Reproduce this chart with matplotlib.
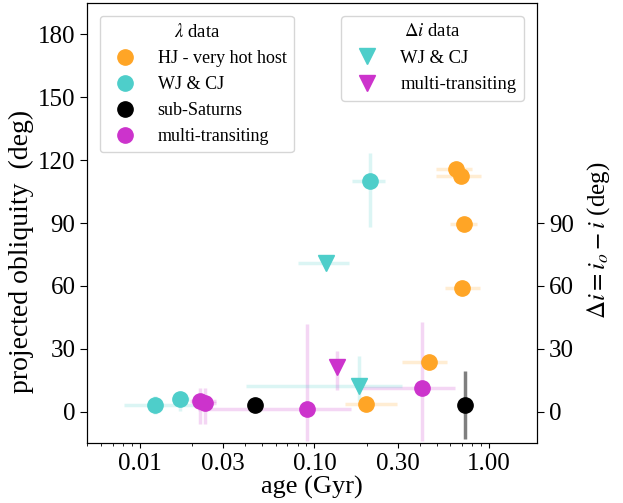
import numpy as np
import matplotlib
matplotlib.use('Agg')
import matplotlib.pyplot as plt
from matplotlib.colors import to_rgba
from matplotlib.lines import Line2D

plt.rcParams['font.family'] = ['Liberation Serif', 'DejaVu Serif']
plt.rcParams['mathtext.fontset'] = 'stix'

# --- lambda data (projected obliquity) ---
hj_age = [0.647, 0.69, 0.72, 0.70, 0.454, 0.198]
hj_age_lo = [0.497, 0.497, 0.60, 0.56, 0.318, 0.150]
hj_age_hi = [0.80, 0.90, 0.85, 0.89, 0.575, 0.298]
hj_lam = [116, 112.3, 89.5, 59.2, 23.7, 3.8]

wj_age = [0.0122, 0.0171, 0.209]
wj_age_lo = [0.0081, 0.0154, 0.165]
wj_age_hi = [0.0203, 0.0191, 0.255]
wj_lam = [3.3, 6.2, 110]
wj_lam_lo = [-1, 0.5, 88]
wj_lam_hi = [7.6, 9.5, 123.6]

ss_age = [0.0454, 0.73]
ss_lam = [3.3, 3.3]
ss_lam_lo = [3.3, -12.8]
ss_lam_hi = [3.3, 19.4]

mt_age = [0.022, 0.0235, 0.0912, 0.414]
mt_age_lo = [0.0195, 0.0215, 0.0215, 0.176]
mt_age_hi = [0.0272, 0.0272, 0.161, 0.64]
mt_lam = [5.2, 4.3, 1.4, 11.4]
mt_lam_lo = [-5.7, -5.7, -14, -14]
mt_lam_hi = [11.4, 11.4, 42, 43]

# --- delta i data ---
wj_di_age = [0.117, 0.181]
wj_di_age_lo = [0.080, 0.0404]
wj_di_age_hi = [0.158, 0.318]
wj_di = [71, 12.5]
wj_di_lo = [71, 5.2]
wj_di_hi = [71, 26.5]

mt_di_age = [0.134]
mt_di = [21.3]
mt_di_lo = [10.4]
mt_di_hi = [29]

c_orange = '#FFA526'
c_teal = '#4ECECA'
c_mag = '#CC33CC'


def err(v, lo, hi):
    v = np.array(v, dtype=float)
    return [v - np.array(lo, dtype=float), np.array(hi, dtype=float) - v]


fig = plt.figure(figsize=(6.23, 5.03), dpi=100)
ax = fig.add_axes([0.140, 0.119, 0.722, 0.875])

ms = 11
ew = 2.5
ax.errorbar(hj_age, hj_lam, xerr=err(hj_age, hj_age_lo, hj_age_hi), fmt='o', ms=ms,
            color=c_orange, ecolor=to_rgba(c_orange, 0.2), elinewidth=ew, zorder=3)
ax.errorbar(wj_age, wj_lam, xerr=err(wj_age, wj_age_lo, wj_age_hi),
            yerr=err(wj_lam, wj_lam_lo, wj_lam_hi), fmt='o', ms=ms,
            color=c_teal, ecolor=to_rgba(c_teal, 0.2), elinewidth=ew, zorder=3)
ax.errorbar(ss_age, ss_lam, yerr=err(ss_lam, ss_lam_lo, ss_lam_hi), fmt='o', ms=ms,
            color='k', ecolor=to_rgba('k', 0.5), elinewidth=ew, zorder=3)
ax.errorbar(mt_age, mt_lam, xerr=err(mt_age, mt_age_lo, mt_age_hi),
            yerr=err(mt_lam, mt_lam_lo, mt_lam_hi), fmt='o', ms=ms,
            color=c_mag, ecolor=to_rgba(c_mag, 0.2), elinewidth=ew, zorder=3)
ax.errorbar(wj_di_age, wj_di, xerr=err(wj_di_age, wj_di_age_lo, wj_di_age_hi),
            yerr=err(wj_di, wj_di_lo, wj_di_hi), fmt='v', ms=ms + 1,
            color=c_teal, ecolor=to_rgba(c_teal, 0.2), elinewidth=ew, zorder=3)
ax.errorbar(mt_di_age, mt_di, yerr=err(mt_di, mt_di_lo, mt_di_hi), fmt='v', ms=ms + 1,
            color=c_mag, ecolor=to_rgba(c_mag, 0.2), elinewidth=ew, zorder=3)

ax.set_xscale('log')
ax.set_xlim(0.005, 1.88)
ax.set_ylim(-15, 195)
ax.set_xticks([0.01, 0.03, 0.1, 0.3, 1.0])
ax.set_xticklabels(['0.01', '0.03', '0.10', '0.30', '1.00'])
ax.set_yticks([0, 30, 60, 90, 120, 150, 180])
ax.tick_params(labelsize=18)
ax.tick_params(axis='y', length=5)
ax.set_xlabel('age (Gyr)', fontsize=19, labelpad=1)
ax.set_ylabel('projected obliquity  (deg)', fontsize=20)
ax.yaxis.set_label_coords(-0.118, 0.435)

ax2 = ax.twinx()
ax2.set_ylim(ax.get_ylim())
ax2.set_yticks([0, 30, 60, 90])
ax2.tick_params(labelsize=18, length=5)
ax2.set_ylabel(r'$\Delta i = i_o - i$ (deg)', fontsize=18)
ax2.yaxis.set_label_coords(1.107, 0.461)

h1 = [Line2D([], [], ls='', marker='o', ms=ms, color=c) for c in [c_orange, c_teal, 'k', c_mag]]
leg1 = ax2.legend(h1, ['HJ - very hot host', 'WJ & CJ', 'sub-Saturns', 'multi-transiting'],
                  title=r'$\lambda$ data', loc='upper left', fontsize=13, title_fontsize=13.5,
                  borderaxespad=0.7)
ax2.add_artist(leg1)
h2 = [Line2D([], [], ls='', marker='v', ms=ms + 1, color=c) for c in [c_teal, c_mag]]
ax2.legend(h2, ['WJ & CJ', 'multi-transiting'], title=r'$\Delta i$ data',
           loc='upper right', fontsize=13.4, title_fontsize=13.5, borderaxespad=0.7)

fig.savefig('out.png', dpi=100)
